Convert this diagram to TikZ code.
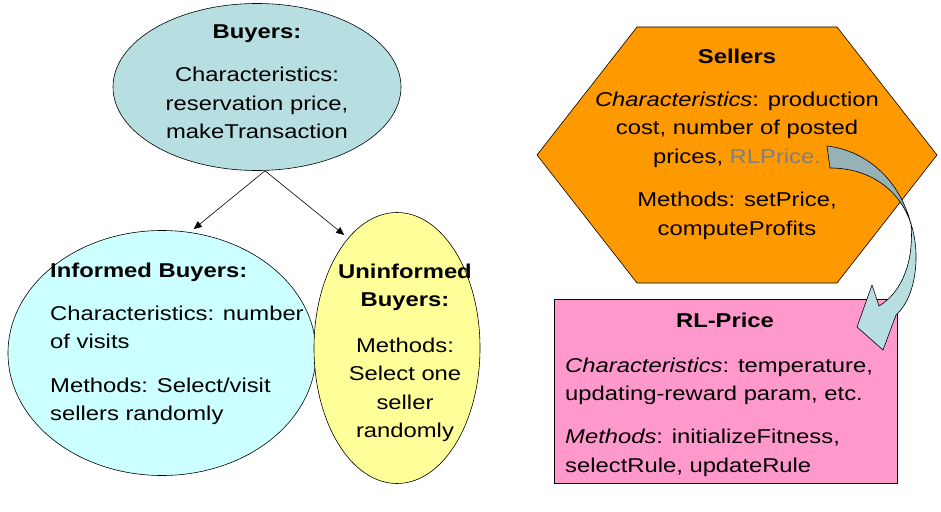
\documentclass[tikz,border=0pt]{standalone}
\usepackage{fontspec}
\setmainfont{Liberation Sans}[FakeStretch=1.19]
\usetikzlibrary{shapes.geometric,arrows.meta}

\definecolor{buyerblue}{HTML}{B7DEE0}
\definecolor{informedcyan}{HTML}{CCFFFF}
\definecolor{uninfyellow}{HTML}{FFFF99}
\definecolor{sellerorange}{HTML}{FF9900}
\definecolor{rlpink}{HTML}{FF99CC}
\definecolor{twistblue}{HTML}{95B3B7}

\tikzset{
	class/.style={draw=black, line width=0.6pt},
	classtext/.style={font=\fontsize{20}{28.5}\selectfont, inner sep=0pt},
	inherit/.style={-{Triangle[length=8pt,width=7pt]}, line width=0.6pt, shorten >=5pt},
}

\begin{document}
\begin{tikzpicture}[x=1pt,y=-1pt]
		\fill[white] (0,0) rectangle (941,511);%page
		
		% buyer classes
		\node[class, ellipse, fill=buyerblue, minimum width=288pt, minimum height=167pt] (buyers) at (257,87) {};
		\node[classtext, align=center, anchor=north] (buyerstext) at (257,24.5)
		{\textbf{Buyers:}\\[15pt]Characteristics:\\reservation price,\\makeTransaction};
		
		\node[class, ellipse, fill=informedcyan, minimum width=308pt, minimum height=245pt] (informed) at (162,353) {};
		\node[classtext, align=left, anchor=north west] (informedtext) at (50,262.5)
		{\textbf{Informed Buyers:}\\[14.5pt]Characteristics: number\\of visits\\[15pt]Methods: Select/visit\\sellers randomly};
		
		\node[class, ellipse, fill=uninfyellow, minimum width=166pt, minimum height=271pt] (uninformed) at (397,348) {};
		\node[classtext, align=center, anchor=north] (uninformedtext) at (405,263.5)
		{\textbf{Uninformed}\\\textbf{Buyers:}\\[17pt]Methods:\\Select one\\seller\\randomly};
		
		\draw[inherit] ([xshift=8pt]buyers.south) -- (informed.77);
		\draw[inherit] ([xshift=8pt]buyers.south) -- (uninformed.114);
		
		% seller class
		\draw[class, fill=sellerorange] (537,155) -- (637,27) -- (837,27) -- (937,155) -- (837,283) -- (637,283) -- cycle;%hexagon
		\node[classtext, align=center, anchor=north] (sellers) at (737,48.5)
		{\textbf{Sellers}\\[14.5pt]\textit{Characteristics}: production\\cost, number of posted\\prices, \textcolor{gray}{RLPrice.}\\[15pt]Methods: setPrice,\\computeProfits};
		
		% learning class
		\node[class, fill=rlpink, minimum width=343pt, minimum height=184pt] (rlprice) at (725.5,391) {};
		\node[classtext, anchor=north] (rltitle) at (725,312.5) {\textbf{RL-Price}};
		\node[classtext, align=left, anchor=north west] (rltext) at (565,357.5)
		{\textit{Characteristics}: temperature,\\updating-reward param, etc.\\[14.5pt]\textit{Methods}: initializeFitness,\\selectRule, updateRule};
		
		% twisted block arrow, back face then front face
		\draw[class, fill=twistblue] (827,146) .. controls (862,150) and (898,175) .. (911,224)
		.. controls (900,190) and (870,168) .. (830,168) -- cycle;
		\draw[class, fill=buyerblue] (911,224) .. controls (920,250) and (918,295) .. (896,315)
		-- (883,350) -- (857,327) -- (872,285) -- (879,306)
		.. controls (902,292) and (914,262) .. (911,224) -- cycle;
\end{tikzpicture}
\end{document}
